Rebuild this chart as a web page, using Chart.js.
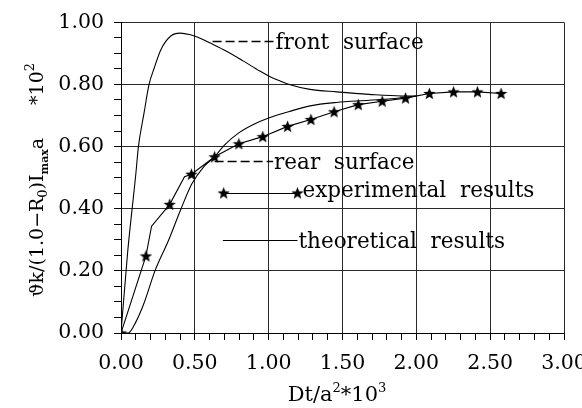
<!DOCTYPE html>
<html>
<head>
<meta charset="utf-8">
<script src="https://cdn.jsdelivr.net/npm/chart.js@4.4.1/dist/chart.umd.min.js"></script>
<style>
  body { margin: 0; background: #fff; }
  canvas { display: block; }
</style>
</head>
<body>
<canvas id="chart" width="582" height="408"></canvas>
<script>
// theoretical curves
const frontX = [0, 0.045, 0.10, 0.118, 0.155, 0.19, 0.225, 0.27, 0.335, 0.40, 0.47, 0.515, 0.605, 0.715, 0.83, 0.94, 1.01, 1.075, 1.14, 1.28, 1.46, 1.68, 1.90, 2.00];
const frontY = [0, 0.26, 0.51, 0.60, 0.705, 0.80, 0.853, 0.912, 0.955, 0.965, 0.96, 0.953, 0.933, 0.907, 0.875, 0.843, 0.825, 0.812, 0.80, 0.784, 0.776, 0.768, 0.763, 0.763];

const rearX = [0, 0.05, 0.10, 0.155, 0.23, 0.32, 0.40, 0.48, 0.56, 0.634, 0.70, 0.80, 0.90, 1.0, 1.14, 1.28, 1.46, 1.68, 1.90, 2.0];
const rearY = [0, 0, 0.035, 0.095, 0.20, 0.296, 0.392, 0.48, 0.535, 0.567, 0.605, 0.645, 0.672, 0.692, 0.713, 0.731, 0.742, 0.749, 0.757, 0.763];

// experimental results (stars)
const expX = [0, 0.169, 0.33, 0.477, 0.634, 0.798, 0.96, 1.128, 1.286, 1.443, 1.607, 1.769, 1.927, 2.088, 2.252, 2.414, 2.574];
const expY = [0, 0.248, 0.414, 0.511, 0.567, 0.609, 0.632, 0.665, 0.687, 0.712, 0.735, 0.746, 0.756, 0.771, 0.776, 0.776, 0.771];

// line joining the stars, with the two kinks near the start
const expLineX = [0, 0.169, 0.207, 0.33, 0.43, 0.477, 0.634, 0.798, 0.96, 1.128, 1.286, 1.443, 1.607, 1.769, 1.927, 2.088, 2.252, 2.414, 2.574];
const expLineY = [0, 0.248, 0.344, 0.414, 0.503, 0.511, 0.567, 0.609, 0.632, 0.665, 0.687, 0.712, 0.735, 0.746, 0.756, 0.771, 0.776, 0.776, 0.771];

const FONT = "'DejaVu Serif', serif";

function toPoints(xs, ys) {
    return xs.map((x, i) => ({ x: x, y: ys[i] }));
}

function makeStar(size) {
    const c = document.createElement('canvas');
    c.width = size; c.height = size;
    const g = c.getContext('2d');
    const cx = size / 2, cy = size / 2 + 0.5;
    const ro = size / 2, ri = ro * 0.42;
    g.beginPath();
    for (let i = 0; i < 10; i++) {
        const r = i % 2 === 0 ? ro : ri;
        const a = -Math.PI / 2 + i * Math.PI / 5;
        g.lineTo(cx + r * Math.cos(a), cy + r * Math.sin(a));
    }
    g.closePath();
    g.fillStyle = '#000';
    g.fill();
    return c;
}
const star = makeStar(13);

function isMultiple(v, step) {
    const q = v / step;
    return Math.abs(q - Math.round(q)) < 1e-6;
}

function setFont(ctx, p) {
    ctx.font = (p.bold ? 'bold ' : '') + p.size + 'px ' + FONT;
}

function piecesWidth(ctx, pieces) {
    let total = 0;
    pieces.forEach(p => {
        setFont(ctx, p);
        p.w = ctx.measureText(p.t).width;
        total += p.w;
    });
    return total;
}

// draws text pieces (sub/superscripts) starting at x
function drawPieces(ctx, pieces, x, y) {
    piecesWidth(ctx, pieces);
    let cx = x;
    pieces.forEach(p => {
        setFont(ctx, p);
        ctx.fillText(p.t, cx, y + (p.dy || 0));
        cx += p.w;
    });
}

// in-plot key entries, positions in data units
const keys = [
    { label: 'front  surface', y: 0.94, x0: 0.62, x1: 1.04, style: 'dash', dy: 7 },
    { label: 'rear  surface', y: 0.554, x0: 0.634, x1: 1.03, style: 'dash', dy: 7 },
    { label: 'experimental  results', y: 0.45, x0: 0.695, x1: 1.195, style: 'star', dy: 3 },
    { label: 'theoretical  results', y: 0.30, x0: 0.69, x1: 1.195, style: 'solid', dy: 7 }
];

const decorations = {
    id: 'decorations',
    afterDraw(chart) {
        const ctx = chart.ctx;
        const xs = chart.scales.x, ys = chart.scales.y;
        ctx.save();
        ctx.fillStyle = '#000';
        ctx.strokeStyle = '#000';
        ctx.textBaseline = 'alphabetic';
        ctx.textAlign = 'left';

        keys.forEach(k => {
            const py = Math.round(ys.getPixelForValue(k.y)) + 0.5;
            const px0 = xs.getPixelForValue(k.x0);
            const px1 = xs.getPixelForValue(k.x1);
            ctx.beginPath();
            ctx.lineWidth = k.style === 'dash' ? 1.6 : 1.1;
            ctx.setLineDash(k.style === 'dash' ? [9, 4] : []);
            ctx.moveTo(px0, py);
            ctx.lineTo(px1, py);
            ctx.stroke();
            ctx.setLineDash([]);
            if (k.style === 'star') {
                ctx.drawImage(star, px0 - 6.5, py - 7);
                ctx.drawImage(star, px1 - 6.5, py - 7);
            }
            ctx.font = '21.5px ' + FONT;
            ctx.fillText(k.label, px1 + (k.style === 'star' ? 5 : 1), py + k.dy);
        });

        // x axis title
        const xt = [
            { t: 'Dt/a', size: 21 },
            { t: '2', size: 13, dy: -9 },
            { t: '*10', size: 21 },
            { t: '3', size: 13, dy: -9 }
        ];
        drawPieces(ctx, xt, 337 - piecesWidth(ctx, xt) / 2, 401);

        // y axis title, read bottom to top
        ctx.translate(43, 0);
        ctx.rotate(-Math.PI / 2);
        drawPieces(ctx, [
            { t: 'ϑk/(1.0−R', size: 19 },
            { t: '0', size: 13, dy: 4 },
            { t: ')I', size: 19 },
            { t: 'max', size: 11, dy: 5, bold: true },
            { t: 'a', size: 19 }
        ], -297, 0);
        const sup = [
            { t: '*10', size: 19 },
            { t: '2', size: 13, dy: -9 }
        ];
        drawPieces(ctx, sup, -63 - piecesWidth(ctx, sup), 0);
        ctx.restore();
    }
};

new Chart(document.getElementById('chart'), {
    type: 'line',
    data: {
        datasets: [
            {
                label: 'front surface',
                data: toPoints(frontX, frontY),
                borderColor: '#000',
                borderWidth: 1.1,
                pointRadius: 0,
                cubicInterpolationMode: 'monotone'
            },
            {
                label: 'rear surface',
                data: toPoints(rearX, rearY),
                borderColor: '#000',
                borderWidth: 1.1,
                pointRadius: 0,
                cubicInterpolationMode: 'monotone'
            },
            {
                label: 'experimental line',
                data: toPoints(expLineX, expLineY),
                borderColor: '#000',
                borderWidth: 1.1,
                pointRadius: 0,
                tension: 0
            },
            {
                label: 'experimental results',
                data: toPoints(expX, expY),
                showLine: false,
                pointStyle: star,
                pointRadius: 6,
                pointHoverRadius: 6
            }
        ]
    },
    options: {
        responsive: false,
        animation: false,
        layout: { padding: { top: 19, right: 18, left: 0, bottom: 0 } },
        plugins: {
            legend: { display: false },
            tooltip: { enabled: false }
        },
        scales: {
            x: {
                type: 'linear',
                min: 0,
                max: 3,
                afterFit(scale) {
                    scale.height = 75;
                    scale.paddingLeft = 0;
                    scale.paddingRight = 0;
                },
                ticks: {
                    stepSize: 0.1,
                    autoSkip: false,
                    maxRotation: 0,
                    padding: 11,
                    color: '#000',
                    font: { family: FONT, size: 20.5 },
                    callback: v => isMultiple(v, 0.5) ? v.toFixed(2) : ''
                },
                grid: {
                    color: c => isMultiple(c.tick.value, 0.5) ? '#2a2a2a' : 'rgba(0,0,0,0)',
                    tickColor: '#000',
                    tickLength: 7,
                    lineWidth: 1
                },
                border: { color: '#000', width: 1 }
            },
            y: {
                type: 'linear',
                min: 0,
                max: 1,
                afterFit(scale) {
                    scale.width = 121;
                },
                ticks: {
                    stepSize: 0.05,
                    autoSkip: false,
                    padding: 10,
                    color: '#000',
                    font: { family: FONT, size: 20.5 },
                    callback: v => isMultiple(v, 0.2) ? v.toFixed(2) : ''
                },
                grid: {
                    color: c => isMultiple(c.tick.value, 0.2) ? '#2a2a2a' : 'rgba(0,0,0,0)',
                    tickColor: '#000',
                    tickLength: 7,
                    lineWidth: 1
                },
                border: { color: '#000', width: 1 }
            }
        }
    },
    plugins: [decorations]
});
</script>
</body>
</html>
